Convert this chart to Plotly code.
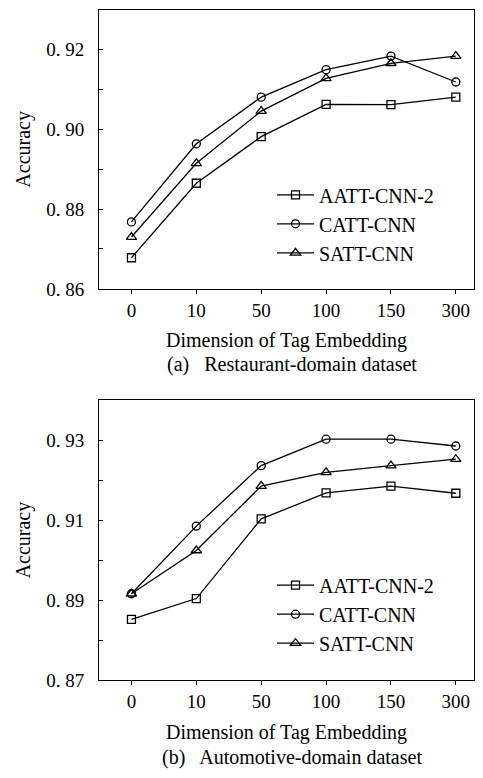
import plotly.graph_objects as go

categories = ["0", "10", "50", "100", "150", "300"]
series_names = ["AATT-CNN-2", "CATT-CNN", "SATT-CNN"]

# (a) Restaurant-domain dataset
rest_aatt = [0.8678, 0.8865, 0.8982, 0.9063, 0.9062, 0.9081]
rest_catt = [0.8768, 0.8964, 0.9081, 0.9150, 0.9184, 0.9119]
rest_satt = [0.8730, 0.8915, 0.9046, 0.9128, 0.9166, 0.9184]

# (b) Automotive-domain dataset
auto_aatt = [0.8852, 0.8904, 0.9103, 0.9168, 0.9185, 0.9167]
auto_catt = [0.8916, 0.9085, 0.9236, 0.9302, 0.9302, 0.9285]
auto_satt = [0.8916, 0.9024, 0.9185, 0.9219, 0.9236, 0.9252]

rest_ticks = [0.86, 0.88, 0.90, 0.92]
rest_ticktext = ["0. 86", "0. 88", "0. 90", "0. 92"]
auto_ticks = [0.87, 0.89, 0.91, 0.93]
auto_ticktext = ["0. 87", "0. 89", "0. 91", "0. 93"]

symbols = ["square-open", "circle-open", "triangle-up-open"]
sizes = [8, 8, 9]

FONT = "Liberation Serif, Times New Roman, serif"
W, H = 483, 778

fig = go.Figure()

panels = [
    ([rest_aatt, rest_catt, rest_satt], "x", "y", "legend"),
    ([auto_aatt, auto_catt, auto_satt], "x2", "y2", "legend2"),
]
for vals_list, xa, ya, leg in panels:
    for name, vals, sym, sz in zip(series_names, vals_list, symbols, sizes):
        fig.add_trace(go.Scatter(
            x=categories, y=vals, name=name, mode="lines+markers",
            xaxis=xa, yaxis=ya, legend=leg,
            line=dict(color="black", width=1.3),
            marker=dict(symbol=sym, size=sz, color="black",
                        line=dict(color="black", width=1.3)),
        ))

def px_x(p):
    return p / W

def px_y(p):
    return 1 - p / H

xdom = [px_x(99), px_x(474)]

common_x = dict(
    type="category", range=[-0.5, 5.28], showgrid=False, zeroline=False,
    showline=True, linecolor="black", linewidth=1, mirror=True,
    ticks="outside", ticklen=4, tickcolor="black",
    tickfont=dict(family=FONT, size=19, color="black"),
    title=dict(text="Dimension of Tag Embedding",
               font=dict(family=FONT, size=20, color="black"), standoff=13),
    domain=xdom,
)

def yaxis(rng, tv, tt, dom, anchor):
    return dict(
        range=rng, showgrid=False, zeroline=False,
        showline=True, linecolor="black", linewidth=1, mirror=True,
        ticks="inside", ticklen=4, tickcolor="black",
        tickvals=tv, ticktext=tt,
        tickfont=dict(family=FONT, size=19, color="black"),
        ticklabelstandoff=10,
        minor=dict(ticks="inside", ticklen=4, tickcolor="black", dtick=0.01,
                   tick0=rng[0], showgrid=False),
        title=dict(text="Accuracy", font=dict(family=FONT, size=20, color="black"),
                   standoff=10),
        domain=dom, anchor=anchor,
    )

legend_common = dict(xanchor="left", yanchor="middle", bgcolor="rgba(0,0,0,0)",
                     itemwidth=37,
                     font=dict(family=FONT, size=20, color="black"))

fig.update_layout(
    width=W, height=H,
    margin=dict(l=0, r=0, t=0, b=0),
    paper_bgcolor="white", plot_bgcolor="white",
    xaxis=dict(common_x, anchor="y"),
    yaxis=yaxis([0.86, 0.93], rest_ticks, rest_ticktext,
                [px_y(293), px_y(10)], "x"),
    xaxis2=dict(common_x, anchor="y2"),
    yaxis2=yaxis([0.87, 0.94], auto_ticks, auto_ticktext,
                 [px_y(690), px_y(405.7)], "x2"),
    legend=dict(legend_common, x=px_x(272), y=px_y(227)),
    legend2=dict(legend_common, x=px_x(272), y=px_y(623)),
    annotations=[
        dict(text="(a)   Restaurant-domain dataset", x=px_x(292), y=px_y(370),
             xref="paper", yref="paper", showarrow=False,
             xanchor="center", yanchor="middle",
             font=dict(family=FONT, size=20, color="black")),
        dict(text="(b)   Automotive-domain dataset", x=px_x(292), y=px_y(768),
             xref="paper", yref="paper", showarrow=False,
             xanchor="center", yanchor="middle",
             font=dict(family=FONT, size=20, color="black")),
    ],
)

fig.write_html("out.html",
               config={"displayModeBar": False},
               post_script="document.body.style.margin='0';"
                           "document.body.style.overflow='hidden';")
